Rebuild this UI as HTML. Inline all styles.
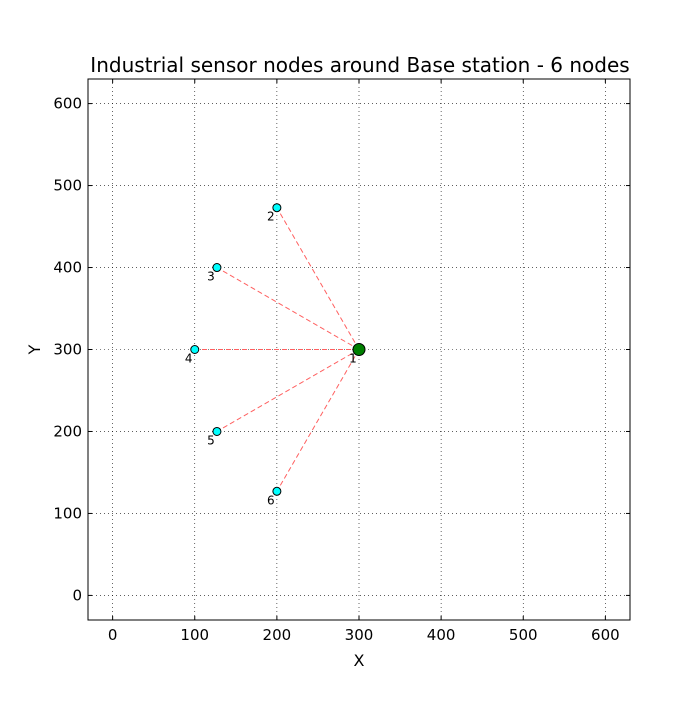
<!DOCTYPE html>
<html><head><meta charset="utf-8"><style>
body{margin:0;background:#fff;}
svg text{font-family:"DejaVu Sans","Liberation Sans",sans-serif;}
</style></head><body>
<svg id="chart" width="700" height="700" xmlns="http://www.w3.org/2000/svg"></svg>
<script>
const nodeIds=[1,2,3,4,5,6];
const nodeX=[300,200,127,100,127,200];
const nodeY=[300,473,400,300,200,127];
const xTicks=[0,100,200,300,400,500,600];
const yTicks=[0,100,200,300,400,500,600];
const NS="http://www.w3.org/2000/svg";
const svg=document.getElementById('chart');
const L=88,R=630,T=79,B=620,min=-30,max=630;
const sx=v=>L+(v-min)/(max-min)*(R-L);
const sy=v=>B-(v-min)/(max-min)*(B-T);
function mk(tag,attrs,parent){const e=document.createElementNS(NS,tag);for(const k in attrs)e.setAttribute(k,attrs[k]);(parent||svg).appendChild(e);return e;}
const bg=mk('rect',{x:L,y:T,width:R-L,height:B-T,fill:'#fff'});


const grid=mk('g',{stroke:'#000','stroke-width':0.6,'stroke-dasharray':'1,3'});


xTicks.forEach(t=>{mk('line',{x1:sx(t),x2:sx(t),y1:T,y2:B},grid);});
yTicks.forEach(t=>{mk('line',{y1:sy(t),y2:sy(t),x1:L,x2:R},grid);});
const ticks=mk('g',{stroke:'#000','stroke-width':1});


xTicks.forEach(t=>{const x=sx(t);mk('line',{x1:x,x2:x,y1:B,y2:B-4},ticks);mk('line',{x1:x,x2:x,y1:T,y2:T+4},ticks);
 const tx=mk('text',{x:x,y:B+20,'text-anchor':'middle','font-size':15,fill:'#000',stroke:'none'});tx.textContent=t;
 
 });
yTicks.forEach(t=>{const y=sy(t);mk('line',{x1:L,x2:L+4,y1:y,y2:y},ticks);mk('line',{x1:R,x2:R-4,y1:y,y2:y},ticks);
 const tx=mk('text',{x:L-6,y:y+5,'text-anchor':'end','font-size':15,fill:'#000',stroke:'none'});tx.textContent=t;
 
 });
const links=mk('g',{stroke:'#ff6060','stroke-width':1,'stroke-dasharray':'5,3'});


for(let i=1;i<nodeIds.length;i++){mk('line',{x1:sx(nodeX[0]),y1:sy(nodeY[0]),x2:sx(nodeX[i]),y2:sy(nodeY[i])},links);}
for(let i=0;i<nodeIds.length;i++){
 const base=i===0;
 const c=mk('circle',{cx:sx(nodeX[i]),cy:sy(nodeY[i]),r:base?6:4,fill:base?'#007f00':'#00ffff',stroke:'#000','stroke-width':1});
 
 
 const t=mk('text',{x:sx(nodeX[i])-6,y:sy(nodeY[i])+13,'text-anchor':'middle','font-size':12,fill:'#000'});t.textContent=nodeIds[i];
 
 
}
const fr=mk('rect',{x:L,y:T,width:R-L,height:B-T,fill:'none',stroke:'#000','stroke-width':1});


const title=mk('text',{x:(L+R)/2+1,y:72,'text-anchor':'middle','font-size':20,fill:'#000'});title.textContent='Industrial sensor nodes around Base station - 6 nodes';


const xl=mk('text',{x:(L+R)/2,y:666,'text-anchor':'middle','font-size':16,fill:'#000'});xl.textContent='X';


const yl=mk('text',{x:40,y:(T+B)/2,'text-anchor':'middle','font-size':16,fill:'#000',transform:`rotate(-90 40 ${(T+B)/2})`});yl.textContent='Y';


</script>
</body></html>
